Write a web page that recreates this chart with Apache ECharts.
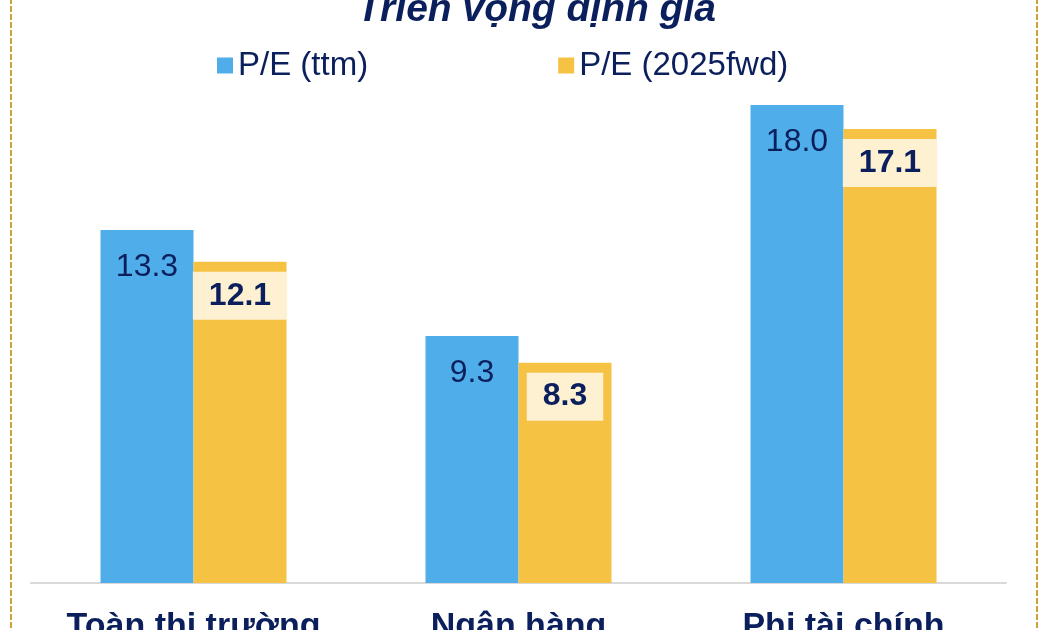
<!DOCTYPE html>
<html>
<head>
<meta charset="utf-8">
<script src="https://cdn.jsdelivr.net/npm/echarts@6/dist/echarts.min.js"></script>
<style>
  html, body { margin: 0; padding: 0; background: #fff; }
  #chart { width: 1050px; height: 630px; }
</style>
</head>
<body>
<div id="chart"></div>
<script>
// dữ liệu P/E
const categories = ['Toàn thị trường', 'Ngân hàng', 'Phi tài chính']
const peTtm = [13.3, 9.3, 18.0]
const peFwd = [12.1, 8.3, 17.1]
const seriesNames = ['P/E (ttm)', 'P/E (2025fwd)']

const navy = '#0b1f5c'
const chart = echarts.init(document.getElementById('chart'))

chart.setOption({
  animation: false,
  backgroundColor: '#fff',
  title: {
    text: 'Triển vọng định giá',
    left: 352,
    top: -14,
    textStyle: { fontFamily: 'Liberation Sans', fontSize: 39, fontWeight: 'bold', fontStyle: 'italic', color: navy }
  },
  legend: {
    data: seriesNames,
    left: 212,
    top: 44,
    itemWidth: 16,
    itemHeight: 16,
    itemGap: 190,
    icon: 'rect',
    textStyle: { fontFamily: 'Liberation Sans', fontSize: 33, color: navy }
  },
  grid: { left: 31, right: 44, top: 52, bottom: 47, outerBoundsMode: 'none' },
  xAxis: {
    type: 'category',
    data: categories,
    axisLine: { lineStyle: { color: '#d9d9d9', width: 2 } },
    axisTick: { show: false },
    axisLabel: { interval: 0, margin: 27, fontFamily: 'Liberation Sans', fontSize: 34, fontWeight: 'bold', color: navy }
  },
  yAxis: {
    type: 'value',
    min: 0,
    max: 20,
    show: false,
    splitLine: { show: false }
  },
  series: [
    {
      name: seriesNames[0],
      type: 'bar',
      data: peTtm,
      barWidth: 93,
      barGap: '0%',
      itemStyle: { color: '#4fadea' },
      label: {
        show: true,
        position: 'insideTop',
        distance: 21,
        formatter: p => p.value.toFixed(1),
        fontFamily: 'Liberation Sans',
        fontSize: 32,
        color: navy
      }
    },
    {
      name: seriesNames[1],
      type: 'bar',
      data: peFwd,
      barWidth: 93,
      itemStyle: { color: '#f5c243' },
      label: {
        show: true,
        position: 'insideTop',
        distance: 10,
        formatter: p => p.value.toFixed(1),
        fontFamily: 'Liberation Sans',
        fontSize: 32,
        fontWeight: 'bold',
        color: navy,
        backgroundColor: '#fdf1d2',
        padding: [8, 16],
        lineHeight: 32
      }
    }
  ],
  graphic: [
    {
      type: 'rect',
      shape: { x: 11, y: -40, width: 1026, height: 720 },
      style: { fill: 'none', stroke: '#c9a23a', lineWidth: 2, lineDash: [6, 2] },
      silent: true
    }
  ]
})
</script>
</body>
</html>
